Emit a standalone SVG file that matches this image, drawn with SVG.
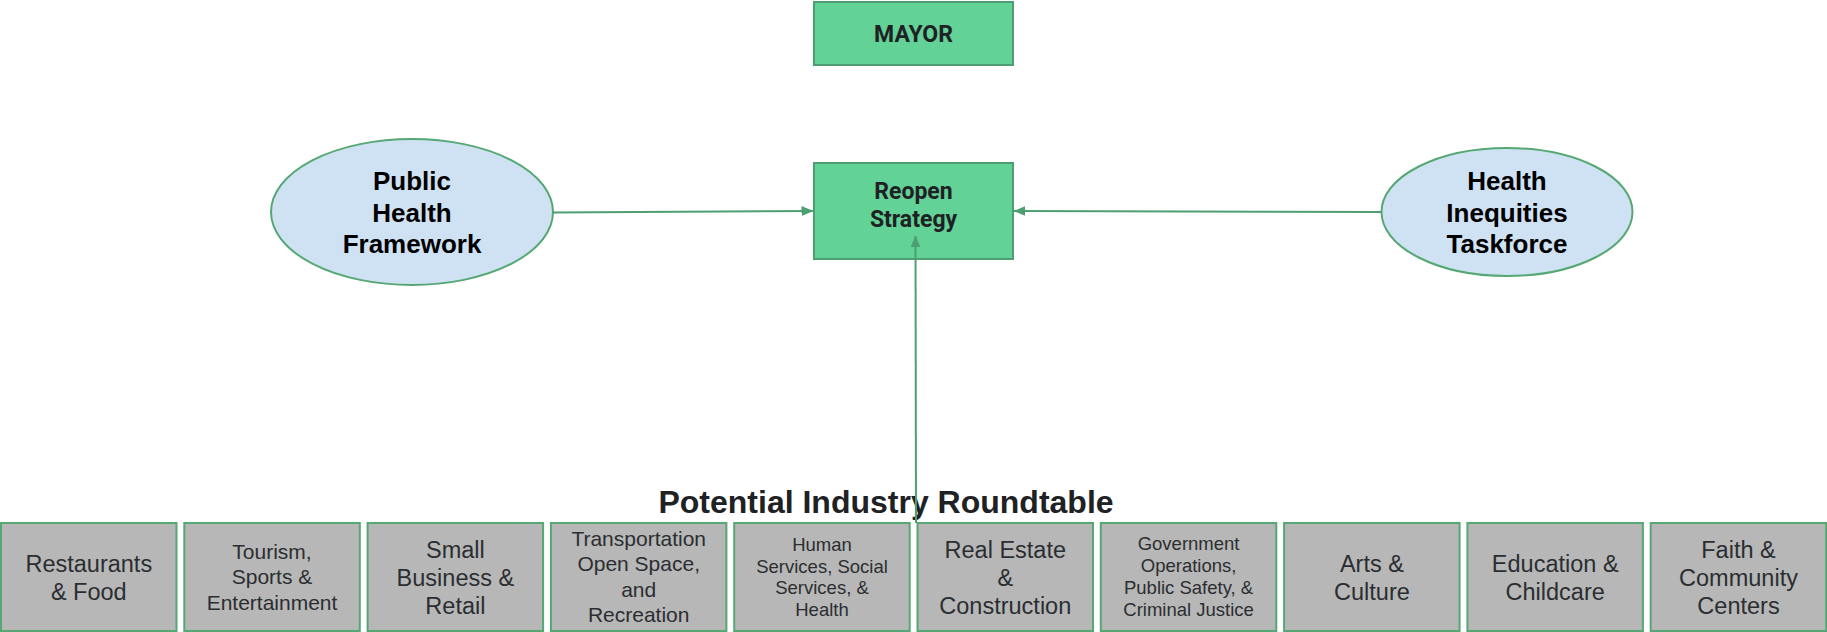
<svg xmlns="http://www.w3.org/2000/svg" width="1827" height="632" viewBox="0 0 1827 632">
<defs>
<style>
.gbox{fill:#62d296;stroke:#4d9f72;stroke-width:2}
.ell{fill:#cfe2f3;stroke:#55a874;stroke-width:2}
.ind{fill:#b7b7b7;stroke:#55a874;stroke-width:2}
.gt{font-family:Roboto,"Liberation Sans",sans-serif;font-weight:bold;font-size:23px;fill:#202124;text-anchor:middle}
.et{font-family:"Liberation Sans",Arial,sans-serif;font-weight:bold;font-size:26px;fill:#000;text-anchor:middle}
.title{font-family:"Liberation Sans",Arial,sans-serif;font-weight:bold;font-size:32px;fill:#202124;text-anchor:middle}
.bt{font-family:"Liberation Sans",Arial,sans-serif;fill:#2b2e31;text-anchor:middle}
.l{font-size:23.5px}
.m{font-size:21px}
.s{font-size:18.5px}
.conn{stroke:#4d9f72;stroke-width:2;fill:none}
</style>
<marker id="arr" viewBox="0 0 12 10" refX="11.5" refY="5" markerWidth="12" markerHeight="10" markerUnits="userSpaceOnUse" orient="auto">
<path d="M0,0 L12,5 L0,10 z" fill="#4d9f72"/>
</marker>
</defs>

<g id="mayor">
<rect class="gbox" x="814" y="2" width="199" height="63"/>
<text class="gt" x="913.5" y="42">MAYOR</text>
</g>

<g id="reopen">
<rect class="gbox" x="814" y="163" width="199" height="96"/>
<text class="gt" x="913.5" y="199">Reopen</text>
<text class="gt" x="913.5" y="227">Strategy</text>
</g>

<g id="public-health">
<ellipse class="ell" cx="412" cy="212" rx="141" ry="73"/>
<text class="et" x="412" y="190">Public</text>
<text class="et" x="412" y="222">Health</text>
<text class="et" x="412" y="253">Framework</text>
</g>

<g id="health-inequities">
<ellipse class="ell" cx="1507" cy="212" rx="125.5" ry="64"/>
<text class="et" x="1507" y="190">Health</text>
<text class="et" x="1507" y="222">Inequities</text>
<text class="et" x="1507" y="253">Taskforce</text>
</g>

<g id="roundtable-title">
<text class="title" x="886" y="513">Potential Industry Roundtable</text>
</g>

<g id="restaurants">
<rect class="ind" x="1" y="523" width="175.5" height="108"/>
<text class="bt l" x="88.8" y="572">Restaurants</text>
<text class="bt l" x="88.8" y="600">&amp; Food</text>
</g>
<g id="tourism">
<rect class="ind" x="184.3" y="523" width="175.5" height="108"/>
<text class="bt m" x="272" y="558.7">Tourism,</text>
<text class="bt m" x="272" y="584.3">Sports &amp;</text>
<text class="bt m" x="272" y="610">Entertainment</text>
</g>
<g id="small-business">
<rect class="ind" x="367.6" y="523" width="175.5" height="108"/>
<text class="bt l" x="455.4" y="557.5">Small</text>
<text class="bt l" x="455.4" y="585.5">Business &amp;</text>
<text class="bt l" x="455.4" y="613.5">Retail</text>
</g>
<g id="transportation">
<rect class="ind" x="550.9" y="523" width="175.5" height="108"/>
<text class="bt m" x="638.7" y="545.5">Transportation</text>
<text class="bt m" x="638.7" y="571.2">Open Space,</text>
<text class="bt m" x="638.7" y="596.8">and</text>
<text class="bt m" x="638.7" y="622.4">Recreation</text>
</g>
<g id="human-services">
<rect class="ind" x="734.2" y="523" width="175.5" height="108"/>
<text class="bt s" x="822" y="550.7">Human</text>
<text class="bt s" x="822" y="572.5">Services, Social</text>
<text class="bt s" x="822" y="594.3">Services, &amp;</text>
<text class="bt s" x="822" y="616">Health</text>
</g>
<g id="real-estate">
<rect class="ind" x="917.5" y="523" width="175.5" height="108"/>
<text class="bt l" x="1005.3" y="557.5">Real Estate</text>
<text class="bt l" x="1005.3" y="585.5">&amp;</text>
<text class="bt l" x="1005.3" y="613.5">Construction</text>
</g>
<g id="government">
<rect class="ind" x="1100.8" y="523" width="175.5" height="108"/>
<text class="bt s" x="1188.6" y="550">Government</text>
<text class="bt s" x="1188.6" y="572">Operations,</text>
<text class="bt s" x="1188.6" y="594">Public Safety, &amp;</text>
<text class="bt s" x="1188.6" y="616">Criminal Justice</text>
</g>
<g id="arts">
<rect class="ind" x="1284.1" y="523" width="175.5" height="108"/>
<text class="bt l" x="1371.9" y="572">Arts &amp;</text>
<text class="bt l" x="1371.9" y="600">Culture</text>
</g>
<g id="education">
<rect class="ind" x="1467.4" y="523" width="175.5" height="108"/>
<text class="bt l" x="1555.2" y="572">Education &amp;</text>
<text class="bt l" x="1555.2" y="600">Childcare</text>
</g>
<g id="faith">
<rect class="ind" x="1650.7" y="523" width="175.5" height="108"/>
<text class="bt l" x="1738.5" y="557.5">Faith &amp;</text>
<text class="bt l" x="1738.5" y="585.5">Community</text>
<text class="bt l" x="1738.5" y="613.5">Centers</text>
</g>

<g id="connectors">
<line class="conn" x1="553" y1="212.5" x2="813" y2="211" marker-end="url(#arr)"/>
<line class="conn" x1="1381.5" y1="212" x2="1014" y2="211" marker-end="url(#arr)"/>
<line class="conn" x1="916" y1="523" x2="915.5" y2="236" marker-end="url(#arr)"/>
</g>
</svg>
